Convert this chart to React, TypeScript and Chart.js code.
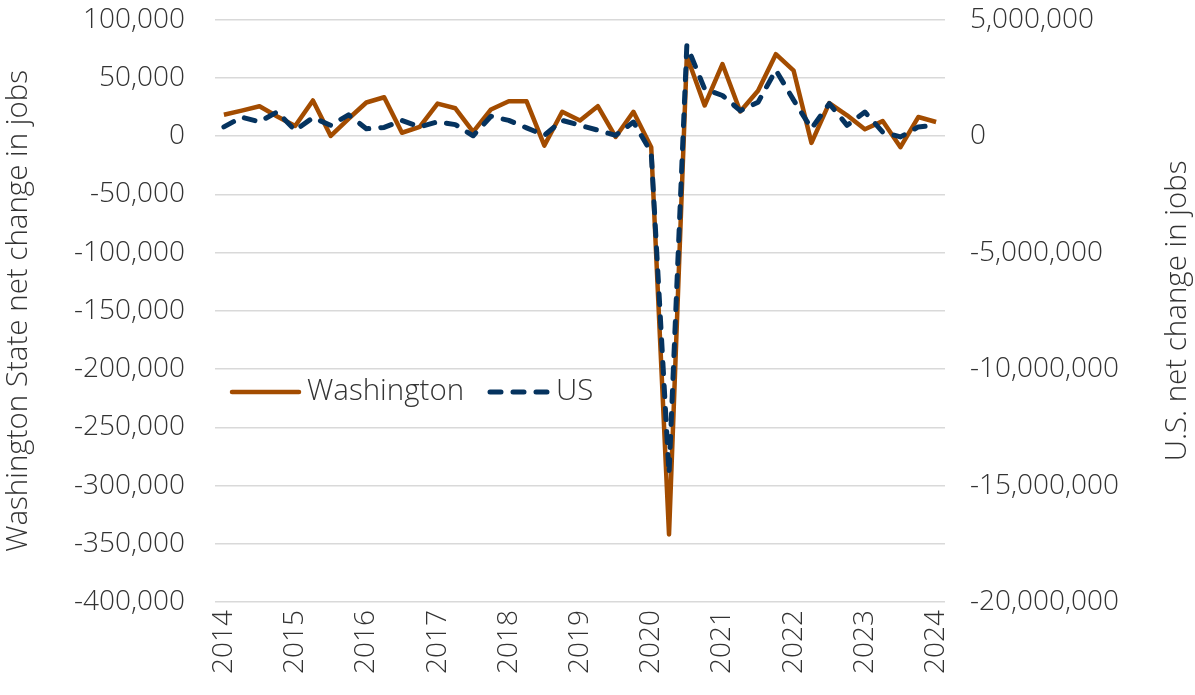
import React, { useEffect, useRef } from "react";
import { Chart, registerables } from "chart.js";

Chart.register(...registerables);

const years = ["2014", "2015", "2016", "2017", "2018", "2019", "2020", "2021", "2022", "2023", "2024"];
const quarters = ["Q1", "Q2", "Q3", "Q4"];

// Washington State net change in jobs (quarterly, 2014 Q1 – 2024 Q1)
const washington = [
  18500, 22000, 25800, 17000, 8800, 30700, 300, 15000, 29000, 33500, 3000, 8000,
  28000, 24000, 3700, 23000, 30000, 30000, -8000, 21000, 13600, 25800, -600, 21000,
  -9400, -342000, 69000, 26400, 62000, 21300, 39000, 70500, 56300, -5700, 28400, 18000,
  6000, 13000, -9400, 16500, 12200,
];

// U.S. net change in jobs (quarterly, 2014 Q1 – 2024 Q1)
const us = [
  400000, 820000, 620000, 1050000, 250000, 800000, 470000, 920000, 320000, 380000, 680000, 400000,
  620000, 500000, 20000, 860000, 680000, 360000, 40000, 680000, 470000, 260000, 40000, 610000,
  -700000, -14500000, 3900000, 2030000, 1750000, 1100000, 1460000, 2840000, 1550000, 330000, 1400000, 470000,
  1040000, 180000, -30000, 400000, 470000,
];

const leftTitle = "Washington State net change in jobs";
const rightTitle = "U.S. net change in jobs";
const seriesNames = ["Washington", "US"];

const WA_COLOR = "#A34C00";
const US_COLOR = "#05335F";
const TEXT_COLOR = "#333333";
const FONT_FAMILY = "'Open Sans', 'Noto Sans', sans-serif";
const FONT_SIZE = 28;
const TITLE_SIZE = 29.5;

const labels: string[] = [];
years.forEach((y, yi) => {
  quarters.forEach((q, qi) => {
    if (yi < years.length - 1 || qi === 0) labels.push(`${y} ${q}`);
  });
});

const fmt = (v: number) => Math.round(v).toLocaleString("en-US");

const overlayPlugin = {
  id: "overlay",
  afterDraw(chart: any) {
    const ctx = chart.ctx as CanvasRenderingContext2D;
    const area = chart.chartArea;
    ctx.save();
    ctx.fillStyle = TEXT_COLOR;
    ctx.font = `300 ${TITLE_SIZE}px ${FONT_FAMILY}`;
    ctx.textBaseline = "middle";
    ctx.textAlign = "center";
    const midY = (area.top + area.bottom) / 2;
    // left title
    ctx.save();
    ctx.translate(19, midY);
    ctx.rotate(-Math.PI / 2);
    ctx.fillText(leftTitle, 0, 0);
    ctx.restore();
    // right title
    ctx.save();
    ctx.translate(1178, midY);
    ctx.rotate(-Math.PI / 2);
    ctx.fillText(rightTitle, 0, 0);
    ctx.restore();

    // legend
    const ly = 392;
    ctx.lineCap = "round";
    ctx.strokeStyle = WA_COLOR;
    ctx.lineWidth = 4.5;
    ctx.beginPath();
    ctx.moveTo(232, ly);
    ctx.lineTo(299, ly);
    ctx.stroke();
    ctx.textAlign = "left";
    ctx.fillText(seriesNames[0], 307, ly);
    ctx.strokeStyle = US_COLOR;
    ctx.lineWidth = 5;
    ctx.setLineDash([11, 12]);
    ctx.beginPath();
    ctx.moveTo(490, ly);
    ctx.lineTo(550, ly);
    ctx.stroke();
    ctx.setLineDash([]);
    ctx.fillText(seriesNames[1], 556, ly);
    ctx.restore();
  },
};

export default function App() {
  const ref = useRef<HTMLCanvasElement | null>(null);

  useEffect(() => {
    document.body.style.margin = "0";
    if (!ref.current) return;
    const tickFont = { family: FONT_FAMILY, size: FONT_SIZE, weight: 300 as any };
    const chart = new Chart(ref.current, {
      type: "line",
      data: {
        labels,
        datasets: [
          {
            label: seriesNames[1],
            data: us,
            yAxisID: "y2",
            borderColor: US_COLOR,
            borderWidth: 5,
            borderDash: [11, 12],
            borderCapStyle: "round",
            borderJoinStyle: "round",
            pointRadius: 0,
            tension: 0,
            order: 0,
          },
          {
            label: seriesNames[0],
            data: washington,
            yAxisID: "y",
            borderColor: WA_COLOR,
            borderWidth: 4.5,
            borderJoinStyle: "round",
            pointRadius: 0,
            tension: 0,
            order: 1,
          },
        ],
      },
      options: {
        responsive: true,
        maintainAspectRatio: false,
        animation: false,
        layout: { padding: { top: 0, right: 0, bottom: 0, left: 0 } },
        plugins: {
          legend: { display: false },
          tooltip: { enabled: false },
        },
        scales: {
          x: {
            type: "category",
            offset: true,
            grid: { display: false, drawTicks: false },
            border: { display: false },
            ticks: {
              autoSkip: false,
              minRotation: 90,
              maxRotation: 90,
              padding: 8,
              color: TEXT_COLOR,
              font: tickFont,
              callback: (_v: any, i: number) => (i % 4 === 0 ? labels[i].slice(0, 4) : ""),
            },
            afterFit: (s: any) => {
              s.height = 93;
            },
          },
          y: {
            position: "left",
            min: -400000,
            max: 100000,
            grid: {
              color: "#d9d9d9",
              lineWidth: 1.5,
              drawTicks: true,
              tickLength: 27,
              tickColor: "rgba(0,0,0,0)",
            },
            border: { display: false },
            ticks: {
              stepSize: 50000,
              padding: 3,
              color: TEXT_COLOR,
              font: tickFont,
              callback: (v: any) => fmt(Number(v)),
            },
            afterFit: (s: any) => {
              s.width = 215;
            },
          },
          y2: {
            position: "right",
            min: -20000000,
            max: 5000000,
            grid: {
              drawOnChartArea: false,
              drawTicks: true,
              tickLength: 22,
              tickColor: "rgba(0,0,0,0)",
            },
            border: { display: false },
            ticks: {
              stepSize: 5000000,
              padding: 3,
              color: TEXT_COLOR,
              font: tickFont,
              callback: (v: any) => fmt(Number(v)),
            },
            afterFit: (s: any) => {
              s.width = 250;
            },
          },
        },
      },
      plugins: [overlayPlugin],
    });
    return () => chart.destroy();
  }, []);

  return (
    <div style={{ width: 1195, height: 695, position: "relative" }}>
      <canvas ref={ref} />
    </div>
  );
}
